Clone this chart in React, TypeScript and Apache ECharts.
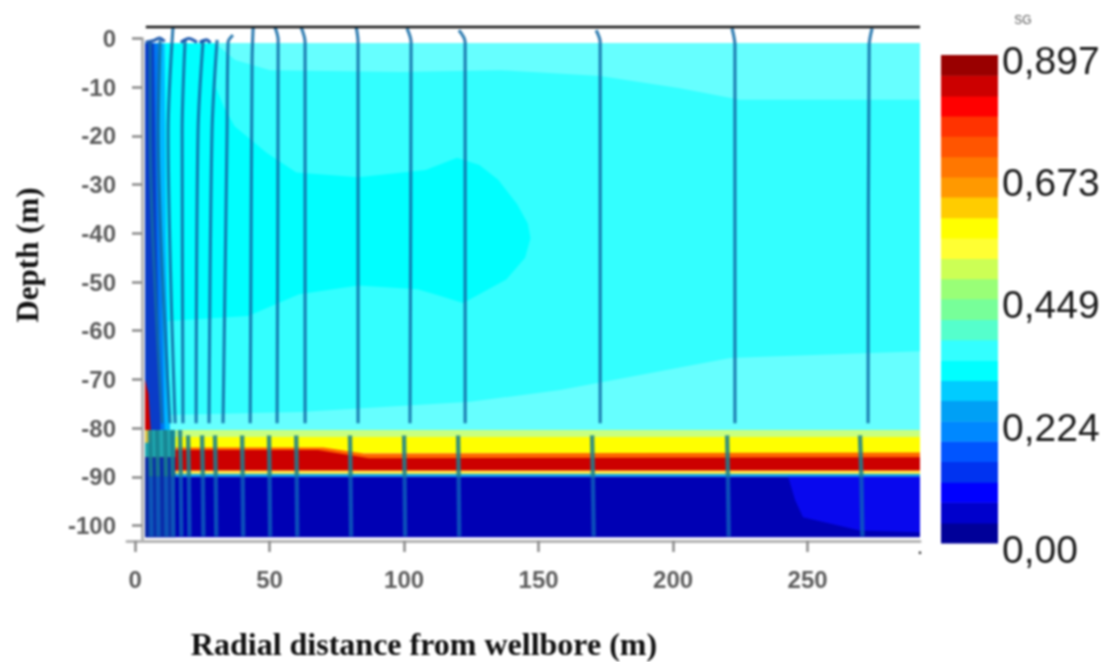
import React, { useEffect, useRef } from "react";
import * as echarts from "echarts";

const xTicks = [0, 50, 100, 150, 200, 250];
const yTicks = [0, -10, -20, -30, -40, -50, -60, -70, -80, -90, -100];
const sgTicks = [0, 0.224, 0.449, 0.673, 0.897];
const sgLabels = ["0,00", "0,224", "0,449", "0,673", "0,897"];

const sgEdges = [0, 0.037, 0.075, 0.112, 0.15, 0.187, 0.224, 0.262, 0.299, 0.336, 0.374, 0.411, 0.449,
  0.486, 0.523, 0.561, 0.598, 0.636, 0.673, 0.71, 0.748, 0.785, 0.822, 0.86, 0.897];
const sgColors = ["#000099", "#0000cc", "#0000ff", "#0033f0", "#0055ff", "#0088ff", "#00a0f5", "#00ccff",
  "#00ffff", "#33ffff", "#55ffcc", "#77ff99", "#99ff77", "#ccff55", "#ffff33", "#ffff00",
  "#ffcc00", "#ff9900", "#ff7700", "#ff5500", "#ff3300", "#ff0000", "#cc0000", "#990000"];

const X_MAX = 291.8;

const zoneMain = [[3.7, -1], [X_MAX, -1], [X_MAX, -80.4], [3.7, -80.4]];
const zoneUpperLight = [[29.7, -0.9], [37.2, -4.4], [50.2, -6.5], [98.5, -6.9], [135.7, -6.5], [172.9, -7.7], [202.6, -10.2], [224.9, -12.6], [X_MAX, -12.6], [X_MAX, -0.9]];
const zoneLowerLight = [[9.3, -77.3], [61.3, -76.7], [124.5, -74.6], [158, -72.2], [187.7, -69.1], [221.2, -65.6], [X_MAX, -64.2], [X_MAX, -80.4], [9.3, -80.4]];
const zoneInner = [[11.2, -1], [29.7, -1], [30, -10], [33, -14], [37, -18], [49, -23.5], [60, -27.5], [83, -28.5], [108, -27], [119.7, -24.5], [128, -26], [135, -29], [142, -34], [146, -38], [147, -41], [145, -45], [138, -49.5], [122, -54.3], [112, -52.6], [105, -51.5], [83, -50.7], [61, -52.5], [42, -57], [27, -57.5], [11.2, -58]];
const zoneWedgeOuter = [[3.7, -1], [11, -1], [11.5, -40], [13, -80.4], [3.7, -80.4]];
const zoneWedgeMid = [[3.7, -1], [8.5, -1], [9.5, -40], [11, -80.4], [3.7, -80.4]];
const zoneWedgeDark = [[3.7, -1], [7, -1], [8, -40], [9.5, -80.4], [3.7, -80.4]];
const zonePale = [[3.7, -80.4], [X_MAX, -80.4], [X_MAX, -81.8], [3.7, -81.8]];
const zoneYellow = [[3.7, -81.8], [X_MAX, -81.8], [X_MAX, -85.2], [3.7, -85.2]];
const zoneOrange = [[3.7, -84.0], [70, -84.0], [85, -85.2], [X_MAX, -85.0], [X_MAX, -88.9], [3.7, -88.9]];
const zoneRed = [[3.7, -84.5], [68, -84.5], [87, -86.2], [X_MAX, -86.0], [X_MAX, -88.8], [3.7, -88.8]];
const zoneSliverYellow = [[3.7, -88.7], [X_MAX, -88.7], [X_MAX, -89.4], [3.7, -89.4]];
const zoneSliverBlue = [[3.7, -89.4], [X_MAX, -89.4], [X_MAX, -90], [3.7, -90]];
const zoneDeep = [[3.7, -90], [X_MAX, -90], [X_MAX, -102.4], [3.7, -102.4]];
const zoneDeepBright = [[242.8, -90], [245.4, -94.8], [248.3, -98.3], [269.5, -101], [X_MAX, -101.4], [X_MAX, -90]];
const zoneWellTeal = [[3.7, -80.4], [15, -80.4], [15, -86], [3.7, -86]];
const zoneWellDeep = [[3.7, -86], [15, -86], [15, -102.4], [3.7, -102.4]];
const zoneWellRed = [[3.7, -70], [5, -73], [5.8, -80.4], [3.7, -80.4]];
const zoneWellYellow = [[3.7, -80.4], [6, -80.4], [5.5, -83], [3.7, -83]];

const zones: { c: string; p: number[][] }[] = [
  { c: "#33ffff", p: zoneMain },
  { c: "#66ffff", p: zoneUpperLight },
  { c: "#66ffff", p: zoneLowerLight },
  { c: "#00ffff", p: zoneInner },
  { c: "#00b8ff", p: zoneWedgeOuter },
  { c: "#0078f0", p: zoneWedgeMid },
  { c: "#0a3cc8", p: zoneWedgeDark },
  { c: "#c8ff80", p: zonePale },
  { c: "#ffff00", p: zoneYellow },
  { c: "#ff6600", p: zoneOrange },
  { c: "#cc0000", p: zoneRed },
  { c: "#ffe84a", p: zoneSliverYellow },
  { c: "#00a8f0", p: zoneSliverBlue },
  { c: "#0000b4", p: zoneDeep },
  { c: "#0808ee", p: zoneDeepBright },
  { c: "#1fa8b0", p: zoneWellTeal },
  { c: "#0a2aa8", p: zoneWellDeep },
  { c: "#cc0000", p: zoneWellRed },
  { c: "#d8c040", p: zoneWellYellow },
];

const upperLines = [
  [[5.6, -0.7], [5.6, -19.2], [10, -79]],
  [[9.3, -0.3], [8.6, -19.2], [13, -79]],
  [[14.1, 2.36], [12.3, -19.2], [14.9, -79]],
  [[18.6, -0.3], [17.5, -19.2], [17.8, -79]],
  [[25.3, -0.3], [23.4, -19.2], [22.7, -79]],
  [[30.5, -0.3], [28.6, -19.2], [27.5, -79]],
  [[36.4, 0.7], [34.6, -0.7], [34.2, -19.2], [32.7, -79]],
  [[43.9, 2.36], [43.5, -4.4], [42.8, -79]],
  [[52, 2.36], [53.2, -0.3], [52.8, -79]],
  [[61.7, 2.36], [63.2, -0.7], [63.2, -79]],
  [[82.2, 2.36], [82.9, -0.7], [82.9, -79]],
  [[101.1, 2.1], [102.6, -0.7], [102.2, -79]],
  [[120.4, 1.7], [122.7, -0.7], [122.7, -79]],
  [[171.4, 1.7], [172.9, -0.7], [172.9, -79]],
  [[221.9, 2.1], [223, -1.3], [223, -79]],
  [[274, 2.1], [272.9, -1.3], [272.5, -79]],
];
const wellArches = [
  [[3.9, -0.8], [7, -0.4], [9, 0.1], [11, -0.6]],
  [[17, -0.8], [20, 0], [23, -0.8]],
  [[24, -0.8], [26.5, -0.3], [28, -0.9]],
];
const lowerLines = [
  [[5.6, -80.4], [5.9, -90]],
  [[8.2, -80.4], [8.5, -90]],
  [[11.2, -80.4], [11.5, -90]],
  [[13.8, -80.4], [14, -90]],
  [[16.7, -80.4], [17, -90]],
  [[19.7, -81.5], [20, -90]],
  [[24.9, -81.5], [25.2, -90]],
  [[29.7, -81.5], [30, -90]],
  [[39.8, -81.5], [40, -90]],
  [[49.8, -81.5], [50, -90]],
  [[59.9, -81.5], [60.1, -90]],
  [[79.9, -81.5], [80.1, -90]],
  [[100, -81.5], [100.2, -90]],
  [[120.1, -81.5], [120.3, -90]],
  [[169.9, -81.5], [170.2, -90]],
  [[220.1, -81.5], [220.4, -90]],
  [[269.5, -81.5], [270, -90]],
];
const deepLines = [
  [[5.9, -90], [6.1, -102.2]],
  [[8.5, -90], [8.7, -102.2]],
  [[11.5, -90], [11.7, -102.2]],
  [[14, -90], [14.2, -102.2]],
  [[17, -90], [17.2, -102.2]],
  [[20, -90], [20.2, -102.2]],
  [[25.2, -90], [25.4, -102.2]],
  [[30, -90], [30.2, -102.2]],
  [[40, -90], [40.2, -102.2]],
  [[50, -90], [50.2, -102.2]],
  [[60.1, -90], [60.3, -102.2]],
  [[80.1, -90], [80.3, -102.2]],
  [[100.2, -90], [100.4, -102.2]],
  [[120.3, -90], [120.5, -102.2]],
  [[170.2, -90], [170.5, -102.2]],
  [[220.4, -90], [220.7, -102.2]],
  [[270, -90], [270.4, -102.2]],
];
const capLine = [[4, 2.36], [X_MAX, 2.36]];

const lineSeries = (d: number[][], color: string, width: number, opacity: number) => ({
  type: "line",
  xAxisIndex: 0,
  yAxisIndex: 0,
  data: d,
  clip: false,
  smooth: 0.3,
  showSymbol: false,
  symbol: "none",
  silent: true,
  z: 5,
  lineStyle: { color, width, opacity },
});

export default function App() {
  const ref = useRef<HTMLDivElement>(null);
  useEffect(() => {
    document.body.style.margin = "0";
    const chart = echarts.init(ref.current!, null, { renderer: "svg" });
    chart.setOption({
      animation: false,
      backgroundColor: "#ffffff",
      grid: [
        { left: 127, top: 38.5, width: 793, height: 502.5 },
        { left: 941, top: 55, width: 57, height: 488 },
        { left: 941, top: 60.5, width: 57, height: 489 },
      ],
      xAxis: [
        {
          type: "value", gridIndex: 0, min: -3, max: X_MAX, splitLine: { show: false },
          axisLine: { onZero: false, lineStyle: { color: "#b4b4b4", width: 3 } },
          axisTick: { customValues: xTicks, length: 11, lineStyle: { color: "#8a8a8a", width: 2.5 } },
          axisLabel: {
            customValues: xTicks, margin: 26, color: "#5c5c5c", fontFamily: "Liberation Sans",
            fontWeight: "bold", fontSize: 24,
          },
        },
        { type: "value", gridIndex: 1, min: 0, max: 1, show: false },
        { type: "value", gridIndex: 2, min: 0, max: 1, show: false },
      ],
      yAxis: [
        {
          type: "value", gridIndex: 0, min: -103.18, max: 0, offset: -15, splitLine: { show: false },
          axisLine: { onZero: false, lineStyle: { color: "#b4b4b4", width: 3 } },
          axisTick: { customValues: yTicks, length: 10, lineStyle: { color: "#8a8a8a", width: 2.5 } },
          axisLabel: {
            customValues: yTicks, margin: 26, color: "#5c5c5c", fontFamily: "Liberation Sans",
            fontWeight: "bold", fontSize: 24,
          },
        },
        { type: "value", gridIndex: 1, min: 0, max: 0.897, show: false },
        {
          type: "value", gridIndex: 2, position: "right", min: 0, max: 0.897, splitLine: { show: false },
          axisLine: { show: false }, axisTick: { show: false },
          axisLabel: {
            customValues: sgTicks, margin: 4, color: "#1c1c1c", fontFamily: "Liberation Sans",
            fontSize: 39,
            formatter: (v: number) => sgLabels[sgTicks.indexOf(v)],
          },
        },
      ],
      series: [
        {
          type: "custom", xAxisIndex: 0, yAxisIndex: 0, clip: false, silent: true, z: 2,
          data: zones.map((_, i) => [i]),
          renderItem: (params: any, api: any) => ({
            type: "polygon",
            shape: { points: zones[params.dataIndex].p.map((pt) => api.coord(pt)) },
            style: { fill: zones[params.dataIndex].c },
          }),
        },
        ...upperLines.map((d) => lineSeries(d, "#126aa6", 3.2, 0.85)),
        ...wellArches.map((d) => lineSeries(d, "#0f4fa8", 3.2, 0.9)),
        ...lowerLines.map((d) => lineSeries(d, "#17808f", 4.4, 0.85)),
        ...deepLines.map((d) => lineSeries(d, "#0e60bc", 4.4, 0.8)),
        { ...lineSeries(capLine, "#111111", 2.4, 1), smooth: false, z: 6 },
        {
          type: "custom", xAxisIndex: 1, yAxisIndex: 1, clip: false, silent: true, z: 2,
          data: sgColors.map((_, i) => [sgEdges[i], sgEdges[i + 1]]),
          renderItem: (params: any, api: any) => {
            const a = api.coord([0, api.value(0)]);
            const b = api.coord([1, api.value(1)]);
            return {
              type: "rect",
              shape: { x: a[0], y: b[1], width: b[0] - a[0], height: a[1] - b[1] + 0.6 },
              style: { fill: sgColors[params.dataIndex] },
            };
          },
        },
      ],
      graphic: [
        {
          type: "text", x: 424, y: 644,
          style: {
            text: "Radial distance from wellbore (m)", fill: "#111111", textAlign: "center", textVerticalAlign: "middle",
            font: "bold 32px 'Liberation Serif'",
          },
        },
        {
          type: "text", x: 27, y: 255, rotation: Math.PI / 2,
          style: {
            text: "Depth (m)", fill: "#111111", textAlign: "center", textVerticalAlign: "middle",
            font: "bold 31px 'Liberation Serif'",
          },
        },
        {
          type: "text", x: 1023, y: 20,
          style: { text: "SG", fill: "#555555", textAlign: "center", textVerticalAlign: "middle", font: "12px 'Liberation Sans'" },
        },
        {
          type: "text", x: 920, y: 548,
          style: { text: ".", fill: "#333333", textAlign: "center", textVerticalAlign: "middle", font: "bold 16px 'Liberation Sans'" },
        },
      ],
    });
    return () => chart.dispose();
  }, []);
  return (
    <div
      ref={ref}
      style={{ position: "fixed", left: 0, top: 0, width: 1110, height: 662, filter: "blur(0.9px)" }}
    />
  );
}
